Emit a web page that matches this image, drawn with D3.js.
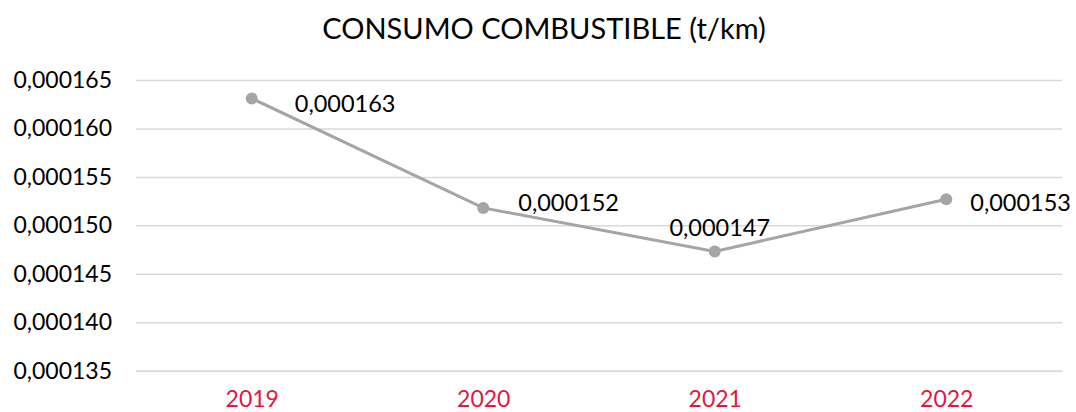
<!DOCTYPE html>
<html><head><meta charset="utf-8">
<script src="https://cdn.jsdelivr.net/npm/d3@7"></script>
<style>body{margin:0;background:#fff}svg{display:block}text{font-family:Lato,sans-serif}</style>
</head><body><svg id="c" width="1076" height="412"></svg>
<script>
const categories = ["2019","2020","2021","2022"];
const values = [0.0001631, 0.0001518, 0.0001473, 0.0001527];
const valueLabels = ["0,000163","0,000152","0,000147","0,000153"];
const yTicks = [0.000135,0.000140,0.000145,0.000150,0.000155,0.000160,0.000165];
const title = "CONSUMO COMBUSTIBLE (t/km)";

(function(){
const svg = d3.select("#c");
const pl = 136, pr = 1062, pt = 80, pb = 370.7;
// label placement (style): offset from marker
const labelStyle = {
  "2019": {dx: 43, dy: 14, anchor: "start"},
  "2020": {dx: 35, dy: 3, anchor: "start"},
  "2021": {dx: 5, dy: -16, anchor: "middle"},
  "2022": {dx: 24, dy: 12, anchor: "start"}
};
const x = d3.scalePoint().domain(categories).range([pl, pr]).padding(0.5);
const y = d3.scaleLinear().domain([0.000135, 0.000165]).range([pb, pt]);
const fmt = v => v.toFixed(6).replace(".", ",");

svg.append("text").attr("x", 544).attr("y", 39).attr("text-anchor","middle")
  .attr("font-size", 29).attr("fill","#000").text(title);

const yAxis = d3.axisLeft(y).tickValues(yTicks).tickFormat(fmt).tickSize(-(pr-pl)).tickPadding(24);
const gy = svg.append("g").attr("transform",`translate(${pl},0)`).call(yAxis);
gy.select(".domain").remove();
gy.selectAll(".tick line").attr("stroke","#d9d9d9").attr("stroke-width",1.5);
gy.selectAll(".tick text").attr("font-size",23).attr("fill","#000").attr("font-family","Lato, sans-serif");

const xAxis = d3.axisBottom(x).tickSize(0).tickPadding(20);
const gx = svg.append("g").attr("transform",`translate(0,${pb})`).call(xAxis);
gx.select(".domain").attr("stroke","#d9d9d9").attr("stroke-width",1.5);
gx.selectAll(".tick text").attr("font-size",23).attr("fill","#e3173e").attr("font-family","Lato, sans-serif");

const data = categories.map((c,i)=>({c, v: values[i], l: valueLabels[i], s: labelStyle[c]}));
svg.append("path").datum(data)
  .attr("d", d3.line().x(d=>x(d.c)).y(d=>y(d.v)))
  .attr("fill","none").attr("stroke","#a5a5a5").attr("stroke-width",3);
svg.selectAll("circle.m").data(data).join("circle").attr("class","m")
  .attr("cx",d=>x(d.c)).attr("cy",d=>y(d.v)).attr("r",6).attr("fill","#a5a5a5");
svg.selectAll("text.dl").data(data).join("text").attr("class","dl")
  .attr("x",d=>x(d.c)+d.s.dx)
  .attr("y",d=>y(d.v)+d.s.dy)
  .attr("text-anchor",d=>d.s.anchor)
  .attr("font-size",23.5).attr("fill","#000").text(d=>d.l);
})();
</script></body></html>
